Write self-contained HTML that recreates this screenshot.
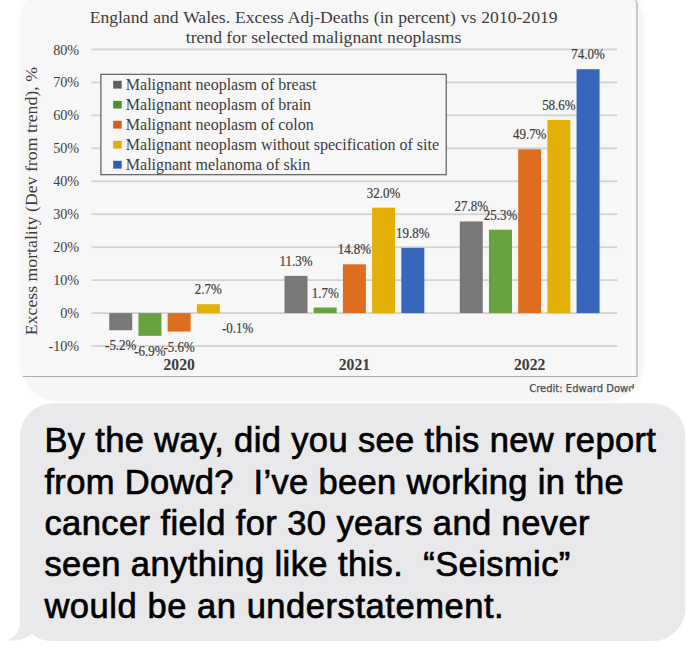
<!DOCTYPE html>
<html><head><meta charset="utf-8"><style>
html,body{margin:0;padding:0;background:#fff;width:694px;height:662px;overflow:hidden;position:relative}
.panel{position:absolute;left:19.7px;top:-16px;width:624.8px;height:417px;background:#f6f6f6;border-radius:39px;overflow:hidden;box-shadow:0 0 4px 1px rgba(0,0,0,0.025)}
.chart{position:absolute;left:0.8px;top:14px;width:615.5px;height:377.5px;background:#f7f7f7;border-right:2px solid #c8c8c8;border-bottom:1.5px solid #aaa;border-radius:0 6px 0 0}
svg{position:absolute;left:0;top:0}
text{font-family:"Liberation Serif",serif;fill:#3c3c3c}
.yl{font-size:14.2px}
.dl{font-size:13.8px;stroke:#3c3c3c;stroke-width:0.2px}
.cl{font-size:15.7px;font-weight:bold}
.lg{font-size:16px}
.tt{font-size:17.6px}
.credit{position:absolute;left:509.5px;top:397.2px;-webkit-text-stroke:0.25px #505050;white-space:pre;font-family:"DejaVu Sans",sans-serif;font-size:10px;word-spacing:0px;color:#505050;line-height:16px}
.msg{position:absolute;left:0;top:0;font-family:"Liberation Sans",sans-serif;font-size:34.5px;color:#000;white-space:pre;-webkit-text-stroke:0.7px #000}
.msg div{position:absolute;left:44.4px;height:41px;line-height:41px}
</style></head><body>
<div class="panel"><div class="chart"></div><div class="credit">Credit: Edward Dowd</div></div>
<svg width="694" height="662" viewBox="0 0 694 662">
<text x="323.6" y="23.4" text-anchor="middle" class="tt" style="word-spacing:0.5px">England and Wales. Excess Adj-Deaths (in percent) vs 2010-2019</text>
<text x="323.6" y="43.3" text-anchor="middle" class="tt">trend for selected malignant neoplasms</text>
<text transform="translate(37.2,335.2) rotate(-90)" class="tt" style="font-size:17.75px">Excess mortality (Dev from trend), %</text>
<rect x="91.5" y="48.52" width="525.80" height="1.8" fill="#d3d3d3"/>
<text x="79.2" y="54.52" text-anchor="end" class="yl">80%</text>
<rect x="91.5" y="81.48" width="525.80" height="1.8" fill="#d3d3d3"/>
<text x="79.2" y="87.48" text-anchor="end" class="yl">70%</text>
<rect x="91.5" y="114.44" width="525.80" height="1.8" fill="#d3d3d3"/>
<text x="79.2" y="120.44" text-anchor="end" class="yl">60%</text>
<rect x="91.5" y="147.40" width="525.80" height="1.8" fill="#d3d3d3"/>
<text x="79.2" y="153.40" text-anchor="end" class="yl">50%</text>
<rect x="91.5" y="180.36" width="525.80" height="1.8" fill="#d3d3d3"/>
<text x="79.2" y="186.36" text-anchor="end" class="yl">40%</text>
<rect x="91.5" y="213.32" width="525.80" height="1.8" fill="#d3d3d3"/>
<text x="79.2" y="219.32" text-anchor="end" class="yl">30%</text>
<rect x="91.5" y="246.28" width="525.80" height="1.8" fill="#d3d3d3"/>
<text x="79.2" y="252.28" text-anchor="end" class="yl">20%</text>
<rect x="91.5" y="279.24" width="525.80" height="1.8" fill="#d3d3d3"/>
<text x="79.2" y="285.24" text-anchor="end" class="yl">10%</text>
<rect x="91.5" y="312.20" width="525.80" height="1.8" fill="#d3d3d3"/>
<text x="79.2" y="318.20" text-anchor="end" class="yl">0%</text>
<rect x="91.5" y="345.16" width="525.80" height="1.8" fill="#d3d3d3"/>
<text x="79.2" y="351.16" text-anchor="end" class="yl">-10%</text>
<rect x="109.23" y="313.10" width="23.0" height="17.14" fill="#787977"/>
<text transform="translate(120.73,350.24) scale(0.94,1)" text-anchor="middle" class="dl">-5.2%</text>
<rect x="138.43" y="313.10" width="23.0" height="22.74" fill="#66a23e"/>
<text transform="translate(149.93,355.84) scale(0.94,1)" text-anchor="middle" class="dl">-6.9%</text>
<rect x="167.63" y="313.10" width="23.0" height="18.46" fill="#de6e1f"/>
<text transform="translate(179.13,351.56) scale(0.94,1)" text-anchor="middle" class="dl">-5.6%</text>
<rect x="196.83" y="304.20" width="23.0" height="8.90" fill="#e3b106"/>
<text transform="translate(208.33,294.20) scale(0.94,1)" text-anchor="middle" class="dl">2.7%</text>
<text transform="translate(237.53,333.43) scale(0.94,1)" text-anchor="middle" class="dl">-0.1%</text>
<text x="179.13" y="370.3" text-anchor="middle" class="cl">2020</text>
<rect x="284.50" y="275.86" width="23.0" height="37.24" fill="#787977"/>
<text transform="translate(296.00,265.86) scale(0.94,1)" text-anchor="middle" class="dl">11.3%</text>
<rect x="313.70" y="307.50" width="23.0" height="5.60" fill="#66a23e"/>
<text transform="translate(325.20,297.50) scale(0.94,1)" text-anchor="middle" class="dl">1.7%</text>
<rect x="342.90" y="264.32" width="23.0" height="48.78" fill="#de6e1f"/>
<text transform="translate(354.40,254.32) scale(0.94,1)" text-anchor="middle" class="dl">14.8%</text>
<rect x="372.10" y="207.63" width="23.0" height="105.47" fill="#e3b106"/>
<text transform="translate(383.60,197.63) scale(0.94,1)" text-anchor="middle" class="dl">32.0%</text>
<rect x="401.30" y="247.84" width="23.0" height="65.26" fill="#3767bb"/>
<text transform="translate(412.80,237.84) scale(0.94,1)" text-anchor="middle" class="dl">19.8%</text>
<text x="354.40" y="370.3" text-anchor="middle" class="cl">2021</text>
<rect x="459.77" y="221.47" width="23.0" height="91.63" fill="#787977"/>
<text transform="translate(471.27,211.47) scale(0.94,1)" text-anchor="middle" class="dl">27.8%</text>
<rect x="488.97" y="229.71" width="23.0" height="83.39" fill="#66a23e"/>
<text transform="translate(500.47,219.71) scale(0.94,1)" text-anchor="middle" class="dl">25.3%</text>
<rect x="518.17" y="149.29" width="23.0" height="163.81" fill="#de6e1f"/>
<text transform="translate(529.67,139.29) scale(0.94,1)" text-anchor="middle" class="dl">49.7%</text>
<rect x="547.37" y="119.95" width="23.0" height="193.15" fill="#e3b106"/>
<text transform="translate(558.87,109.95) scale(0.94,1)" text-anchor="middle" class="dl">58.6%</text>
<rect x="576.57" y="69.20" width="23.0" height="243.90" fill="#3767bb"/>
<text transform="translate(588.07,59.20) scale(0.94,1)" text-anchor="middle" class="dl">74.0%</text>
<text x="529.67" y="370.3" text-anchor="middle" class="cl">2022</text>
<rect x="100.9" y="74.3" width="345.3" height="100.4" fill="#f7f7f7" stroke="#505050" stroke-width="1.1"/>
<rect x="113.2" y="80.8" width="8.5" height="7.8" fill="#5e5e5e"/>
<text x="125.8" y="89.5" class="lg">Malignant neoplasm of breast</text>
<rect x="113.2" y="100.8" width="8.5" height="7.8" fill="#4c8f32"/>
<text x="125.8" y="109.5" class="lg">Malignant neoplasm of brain</text>
<rect x="113.2" y="120.8" width="8.5" height="7.8" fill="#d85c1c"/>
<text x="125.8" y="129.5" class="lg">Malignant neoplasm of colon</text>
<rect x="113.2" y="140.8" width="8.5" height="7.8" fill="#e4aa12"/>
<text x="125.8" y="149.5" class="lg">Malignant neoplasm without specification of site</text>
<rect x="113.2" y="160.8" width="8.5" height="7.8" fill="#2d5cb6"/>
<text x="125.8" y="169.5" class="lg">Malignant melanoma of skin</text>
<path d="M20,436.2 A33,33 0 0 1 53,403.2 L652.5,403.2 A33,33 0 0 1 685.5,436.2 L685.5,608 A33,33 0 0 1 652.5,641 L52,641 C44,641 37,639 32.3,633.8 C26,639 17,641 8,640.6 C15,636.5 19.8,632 19.8,623 Z" fill="#e9e9eb"/>
</svg>
<div class="msg">
<div style="top:419.75px;letter-spacing:0.365px">By the way, did you see this new report</div>
<div style="top:461.55px;letter-spacing:0.335px">from Dowd?  I’ve been working in the</div>
<div style="top:503.05px;letter-spacing:0.41px">cancer field for 30 years and never</div>
<div style="top:544.25px;letter-spacing:0.41px">seen anything like this.  “Seismic”</div>
<div style="top:585.95px;letter-spacing:0.55px">would be an understatement.</div>
</div>
</body></html>
